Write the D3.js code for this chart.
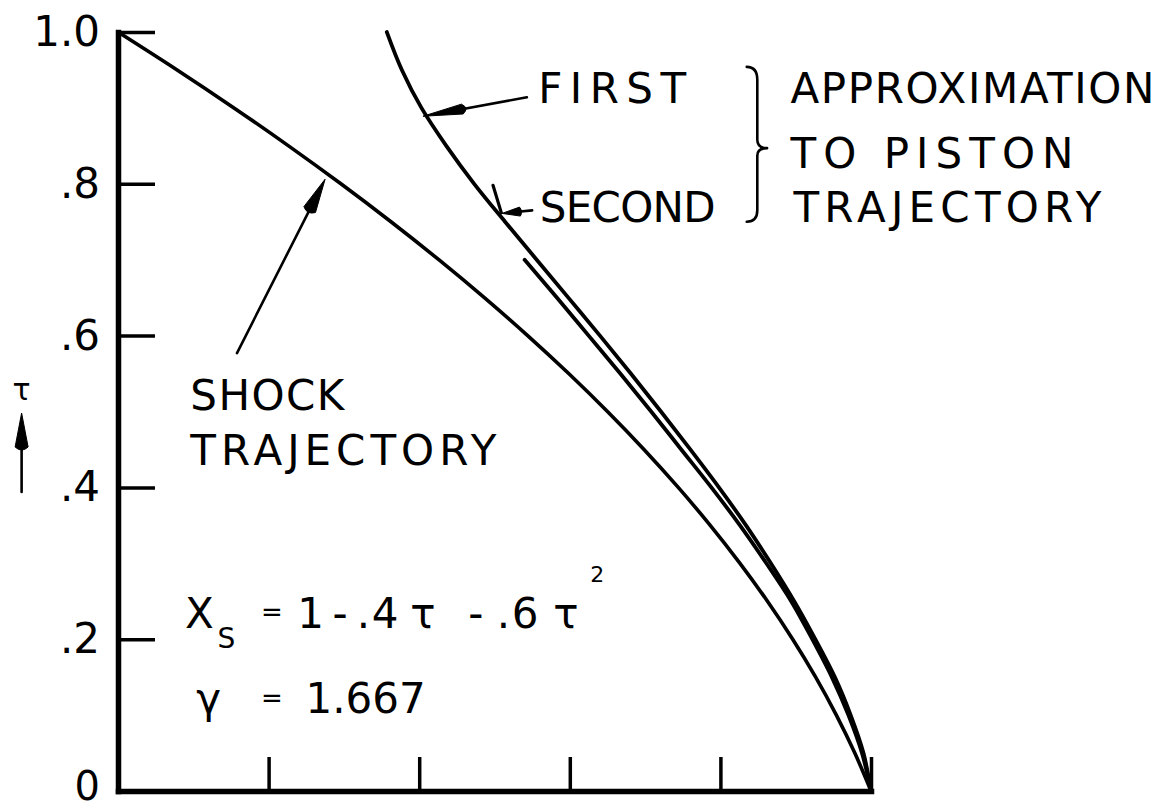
<!DOCTYPE html>
<html>
<head>
<meta charset="utf-8">
<script src="https://cdn.jsdelivr.net/npm/d3@7"></script>
<style>
  html, body { margin: 0; padding: 0; background: #fff; }
  svg { display: block; }
  text { font-family: "DejaVu Sans", "Liberation Sans", sans-serif; fill: #000; }
</style>
</head>
<body>
<svg id="chart" width="1174" height="810"></svg>
<script>
// Axis ticks: τ on the vertical axis, X on the horizontal axis (unlabelled)
const tauTicks = [0, 0.2, 0.4, 0.6, 0.8, 1.0];
const tauTickLabels = ["0", ".2", ".4", ".6", ".8", "1.0"];
const xTicks = [0.2, 0.4, 0.6, 0.8, 1.0];

// Shock trajectory  Xs = 1 - .4τ - .6τ²
const shockTau = [1.0, 0.95, 0.9, 0.85, 0.8, 0.75, 0.7, 0.65, 0.6, 0.55, 0.5,
                  0.45, 0.4, 0.35, 0.3, 0.25, 0.2, 0.15, 0.1, 0.05, 0.0];
const shockX   = [0.0, 0.0785, 0.154, 0.2265, 0.296, 0.3625, 0.426, 0.4865, 0.544, 0.5985, 0.65,
                  0.6985, 0.744, 0.7865, 0.826, 0.8625, 0.896, 0.9265, 0.954, 0.9785, 1.0];

// First approximation to the piston trajectory
const firstTau = [1.0, 0.95, 0.9, 0.85, 0.8, 0.75, 0.7, 0.65, 0.6, 0.55, 0.5,
                  0.45, 0.4, 0.35, 0.3, 0.25, 0.2, 0.15, 0.1, 0.05, 0.0];
const firstX   = [0.357, 0.377, 0.403, 0.436, 0.473, 0.514, 0.556, 0.598, 0.640, 0.681, 0.721,
                  0.760, 0.798, 0.834, 0.867, 0.898, 0.926, 0.952, 0.973, 0.990, 1.0];

// Second approximation to the piston trajectory
const secondTau = [0.70, 0.65, 0.6, 0.55, 0.5, 0.45, 0.4, 0.35, 0.3, 0.25, 0.2, 0.15, 0.1, 0.05, 0.0];
const secondX   = [0.540, 0.583, 0.625, 0.667, 0.708, 0.748, 0.788, 0.826, 0.861, 0.894, 0.922, 0.948, 0.970, 0.988, 1.0];

// Annotation anchors, in (X, τ) units
const firstLeader  = { from: [0.543, 0.914], to: [0.405, 0.889] };
const secondLeader = { from: [0.550, 0.765], to: [0.510, 0.761] };
const secondStroke = { from: [0.498, 0.798], to: [0.509, 0.762] };
const shockLeader  = { from: [0.158, 0.577], to: [0.275, 0.806] };
const tauArrow     = { from: [-0.128, 0.394], to: [-0.128, 0.498] };
const brace = [[0.835, 0.954], [0.849, 0.937], [0.849, 0.858], [0.862, 0.847],
               [0.849, 0.837], [0.849, 0.765], [0.835, 0.750]];

const labels = [
  { text: "FIRST",         at: [0.558, 0.906], len: 148 },
  { text: "SECOND",        at: [0.560, 0.750], len: 176 },
  { text: "APPROXIMATION", at: [0.893, 0.906], len: 364 },
  { text: "TO PISTON",     at: [0.893, 0.821], len: 283 },
  { text: "TRAJECTORY",    at: [0.897, 0.750], len: 308 },
  { text: "SHOCK",         at: [0.096, 0.502], len: 154 },
  { text: "TRAJECTORY",    at: [0.096, 0.430], len: 306 }
];

// Formula pieces: text, position (X, τ), font size
const formulaPieces = [
  { t: "X",  at: [0.089, 0.215], s: 42 },
  { t: "S",  at: [0.132, 0.188], s: 28 },
  { t: "=",  at: [0.190, 0.224], s: 26 },
  { t: "1",  at: [0.238, 0.215], s: 42 },
  { t: "-",  at: [0.285, 0.215], s: 42 },
  { t: ".",  at: [0.317, 0.215], s: 42 },
  { t: "4",  at: [0.337, 0.215], s: 42 },
  { t: "τ",  at: [0.388, 0.215], s: 42 },
  { t: "-",  at: [0.465, 0.215], s: 42 },
  { t: ".",  at: [0.503, 0.215], s: 42 },
  { t: "6",  at: [0.523, 0.215], s: 42 },
  { t: "τ",  at: [0.578, 0.215], s: 42 },
  { t: "2",  at: [0.627, 0.275], s: 22 },
  { t: "γ",  at: [0.104, 0.103], s: 42 },
  { t: "=",  at: [0.190, 0.111], s: 26 },
  { t: "1.667", at: [0.249, 0.103], s: 42 }
];

const svg = d3.select("#chart");
const x = d3.scaleLinear().domain([0, 1]).range([118, 871]);
const y = d3.scaleLinear().domain([0, 1]).range([791, 32]);
const P = d => [x(d[0]), y(d[1])];

// Axes
const yAxis = d3.axisLeft(y)
  .tickValues(tauTicks)
  .tickFormat((d, i) => tauTickLabels[i])
  .tickSizeInner(-37).tickSizeOuter(0).tickPadding(18);
const gy = svg.append("g")
  .attr("transform", `translate(${x(0)},0)`)
  .call(yAxis)
  .attr("font-size", 42)
  .attr("font-family", "DejaVu Sans, sans-serif");
gy.select(".domain").attr("stroke", "#000").attr("stroke-width", 5.5).attr("stroke-linecap", "square");
gy.selectAll(".tick line").attr("stroke", "#000").attr("stroke-width", 3.5);
gy.selectAll(".tick text").attr("fill", "#000");
// the origin label sits at the very bottom of the frame
gy.selectAll(".tick text").filter(d => d === 0)
  .attr("font-size", 40).attr("dy", "0.2em");

const xAxis = d3.axisBottom(x)
  .tickValues(xTicks)
  .tickFormat(() => "")
  .tickSizeInner(-34).tickSizeOuter(0);
const gx = svg.append("g")
  .attr("transform", `translate(0,${y(0)})`)
  .call(xAxis);
gx.select(".domain").attr("stroke", "#000").attr("stroke-width", 5.5).attr("stroke-linecap", "square");
gx.selectAll(".tick line").attr("stroke", "#000").attr("stroke-width", 3.5);

// Trajectories
const line = d3.line().x(d => x(d.X)).y(d => y(d.t)).curve(d3.curveMonotoneY);
const series = [
  { tau: shockTau,  X: shockX,  w: 3.6 },
  { tau: firstTau,  X: firstX,  w: 3.8 },
  { tau: secondTau, X: secondX, w: 3.8 }
];
svg.append("g").selectAll("path")
  .data(series)
  .join("path")
  .attr("d", s => line(s.tau.map((t, i) => ({ t, X: s.X[i] }))))
  .attr("fill", "none")
  .attr("stroke", "#000")
  .attr("stroke-width", s => s.w)
  .attr("stroke-linecap", "round")
  .attr("stroke-linejoin", "round");

// Arrow helper: shaft from tail to the base of a filled head at the tip
const ann = svg.append("g");
function arrow(a, headLen, halfW, shaftW) {
  const [x0, y0] = P(a.from), [x1, y1] = P(a.to);
  const dx = x1 - x0, dy = y1 - y0, L = Math.hypot(dx, dy);
  const ux = dx / L, uy = dy / L, nx = -uy, ny = ux;
  const bx = x1 - ux * headLen, by = y1 - uy * headLen;
  ann.append("line")
    .attr("x1", x0).attr("y1", y0).attr("x2", bx + ux * 2).attr("y2", by + uy * 2)
    .attr("stroke", "#000").attr("stroke-width", shaftW).attr("stroke-linecap", "round");
  const back = 0.18 * headLen;
  ann.append("path")
    .attr("d", `M${x1},${y1}L${bx + nx * halfW},${by + ny * halfW}` +
               `Q${bx - ux * back},${by - uy * back} ${bx - nx * halfW},${by - ny * halfW}Z`)
    .attr("fill", "#000").attr("stroke", "#000").attr("stroke-width", 1).attr("stroke-linejoin", "round");
}
arrow(firstLeader, 40, 5, 2.6);
arrow(secondLeader, 18, 4.5, 2.6);
arrow(shockLeader, 34, 6.5, 2.6);
arrow(tauArrow, 34, 6.5, 2.6);

ann.append("line")
  .attr("x1", P(secondStroke.from)[0]).attr("y1", P(secondStroke.from)[1])
  .attr("x2", P(secondStroke.to)[0]).attr("y2", P(secondStroke.to)[1])
  .attr("stroke", "#000").attr("stroke-width", 3.2).attr("stroke-linecap", "round");

// Brace grouping the two approximations
const bp = brace.map(P);
ann.append("path")
  .attr("d", `M${bp[0][0]},${bp[0][1]}Q${bp[1][0]},${bp[0][1]} ${bp[1][0]},${bp[1][1]}` +
             `L${bp[2][0]},${bp[2][1]}Q${bp[2][0]},${bp[3][1]} ${bp[3][0]},${bp[3][1]}` +
             `Q${bp[4][0]},${bp[3][1]} ${bp[4][0]},${bp[4][1]}` +
             `L${bp[5][0]},${bp[5][1]}Q${bp[5][0]},${bp[6][1]} ${bp[6][0]},${bp[6][1]}`)
  .attr("fill", "none").attr("stroke", "#000").attr("stroke-width", 2.6)
  .attr("stroke-linecap", "round").attr("stroke-linejoin", "round");

// Text labels
ann.selectAll("text.label")
  .data(labels)
  .join("text")
  .attr("class", "label")
  .attr("x", d => P(d.at)[0])
  .attr("y", d => P(d.at)[1])
  .attr("font-size", 42)
  .attr("textLength", d => d.len)
  .attr("lengthAdjust", "spacing")
  .text(d => d.text);

ann.selectAll("text.formula")
  .data(formulaPieces)
  .join("text")
  .attr("class", "formula")
  .attr("x", d => P(d.at)[0])
  .attr("y", d => P(d.at)[1])
  .attr("font-size", d => d.s)
  .text(d => d.t);

// τ label of the vertical axis
ann.append("text")
  .attr("x", x(-0.128)).attr("y", y(0.515))
  .attr("text-anchor", "middle")
  .attr("font-size", 30)
  .text("τ");
</script>
</body>
</html>
